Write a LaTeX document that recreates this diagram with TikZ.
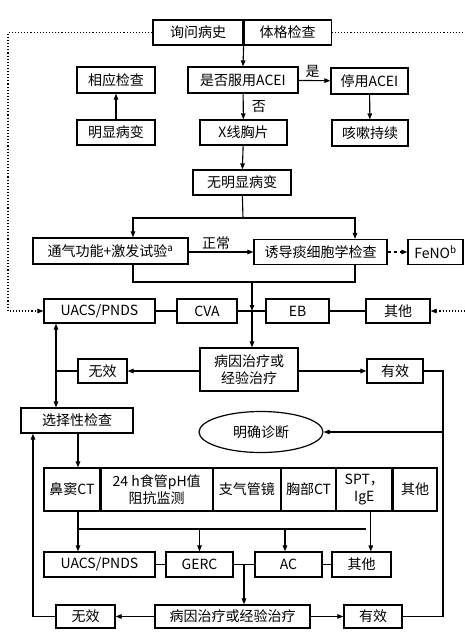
\documentclass[tikz,border=0pt]{standalone}
\usepackage{fontspec}
\setmainfont{Noto Sans CJK SC}
\usetikzlibrary{positioning, arrows.meta, shapes.geometric}
\tikzset{
  box/.style={
    draw, line width=1.2pt, inner sep=1pt, minimum height=25pt,
    align=center, font=\fontsize{14}{17}\selectfont
  },
  cell/.style={box, minimum height=43pt},
  oval/.style={box, ellipse, minimum width=124pt, minimum height=41pt},
  arr/.style={-{Triangle[length=6pt,width=4.5pt]}, line width=1.1pt},
  link/.style={line width=1.1pt},
  hint/.style={arr, dotted},
  tag/.style={font=\fontsize{14}{16}\selectfont, inner sep=2pt},
}

\begin{document}
\begin{tikzpicture}[x=1pt, y=-1pt]
  \useasboundingbox (0,0) rectangle (465,641);

  % top part
  \node[box, minimum width=90pt] (hist) at (198,32.5) {询问病史};
  \node[box, minimum width=87pt, right=0pt of hist] (phys) {体格检查};
  \node[box, minimum width=78pt, minimum height=26pt] (relexam) at (116,80) {相应检查};
  \node[box, minimum width=110pt, minimum height=26pt] (acei) at (243,80) {是否服用ACEI};
  \node[box, minimum width=77pt, minimum height=26pt] (stop) at (369.5,81) {停用ACEI};
  \node[box, minimum width=78pt] (obvious) at (116,132.5) {明显病变};
  \node[box, minimum width=87pt] (xray) at (243.5,132.5) {X线胸片};
  \node[box, minimum width=76pt, minimum height=26pt] (cough) at (370,133) {咳嗽持续};
  \node[box, minimum width=98pt] (noles) at (242,182.5) {无明显病变};

  \draw[arr] (hist.south east) -- (acei.north);
  \draw[arr] (acei) -- node[tag, above, xshift=-2pt] {是} (stop);
  \draw[arr] (acei) -- node[tag, right=6pt] {否} (xray);
  \draw[arr] (obvious) -- (relexam);
  \draw[arr] (stop) -- (cough);
  \draw[arr] (xray) -- (noles);

  % tests
  \node[box, minimum width=155pt, minimum height=26pt] (vent) at (110.5,251) {通气功能+激发试验\textsuperscript{a}};
  \node[box, minimum width=133pt, minimum height=25pt] (sputum) at (320.5,252) {诱导痰细胞学检查};
  \node[box, minimum width=55pt, minimum height=25pt] (feno) at (435.5,252) {FeNO\textsuperscript{b}};

  \coordinate (split) at (243,218);
  \coordinate (merge) at (252,282);
  \draw[link] (noles) -- (split);
  \draw[arr] (split) -| ([xshift=22.5pt]vent.north);
  \draw[arr] (split) -| ([xshift=34.5pt]sputum.north);
  \draw[arr] (vent.east |- sputum) -- node[tag, above, xshift=-5pt] {正常} (sputum);
  \draw[arr, dashed] (sputum) -- (feno);
  \draw[link] ([xshift=22.5pt]vent.south) |- (merge) -| ([xshift=34.5pt]sputum.south);

  % first diagnoses
  \node[box, minimum width=111pt, minimum height=24pt] (uacs1) at (99.5,311) {UACS/PNDS};
  \node[box, minimum width=60pt, minimum height=24pt] (cva) at (207,311) {CVA};
  \node[box, minimum width=63pt, minimum height=24pt] (eb) at (297.5,311) {EB};
  \node[box, minimum width=64pt, minimum height=24pt] (other1) at (398,311) {其他};
  \draw[link] (uacs1) -- (cva) -- (eb) -- (other1);

  \coordinate (row1) at (252,311);
  \draw[arr] (merge) -- (row1);

  \coordinate (dtl) at (8,32.5);
  \coordinate (dbl) at (8,311);
  \coordinate (dtr) at (467,32.5);
  \coordinate (dbr) at (467,311);
  \draw[hint] (hist.west) -- (dtl) -- (dbl) -- (uacs1.west);
  \draw[hint] (phys.east) -- (dtr) -- (dbr) -- (other1.east);

  \node[box, minimum width=98pt, minimum height=43pt] (treat1) at (249,369.5) {病因治疗或\\经验治疗};
  \node[box, minimum width=49pt, minimum height=24pt] (ineff1) at (102.5,371) {无效};
  \node[box, minimum width=56pt, minimum height=24pt] (eff1) at (395,371) {有效};
  \draw[arr] (row1) -- (row1 |- treat1.north);
  \draw[arr] (treat1.west |- ineff1) -- (ineff1);
  \draw[arr] (treat1.east |- eff1) -- (eff1);

  \node[box, minimum width=112pt] (select) at (77,420.5) {选择性检查};
  \node[oval] (diag) at (261,432) {明确诊断};

  \coordinate (lj) at (56,371);
  \draw[link] (ineff1) -- (lj);
  \draw[arr] (lj) -- (lj |- uacs1.south);
  \draw[arr] (lj) -- (lj |- select.north);

  % selective tests
  \node[cell, minimum width=56pt] (c1) at (72,489.5) {鼻窦CT};
  \node[cell, minimum width=111pt, right=0pt of c1] (c2) {24 h食管pH值\\阻抗监测};
  \node[cell, minimum width=67pt, right=0pt of c2] (c3) {支气管镜};
  \node[cell, minimum width=54pt, right=0pt of c3] (c4) {胸部CT};
  \node[cell, minimum width=55pt, right=0pt of c4] (c5) {SPT，\\IgE};
  \node[cell, minimum width=44pt, right=0pt of c5] (c6) {其他};
  \draw[arr] ([xshift=1pt]select.south) -- ([xshift=1pt]select.south |- c1.north);

  \node[box, minimum width=111pt] (uacs2) at (99.5,564.5) {UACS/PNDS};
  \node[box, minimum width=67pt] (gerc) at (199.5,564.5) {GERC};
  \node[box, minimum width=67pt] (ac) at (288.5,564.5) {AC};
  \node[box, minimum width=59pt] (other2) at (361.5,564.5) {其他};
  \draw[link] (uacs2) -- (gerc) -- (ac) -- (other2);

  \coordinate (bl) at (78,529);
  \coordinate (br) at (366,529);
  \draw[link] (bl) -- (br);
  \draw[arr] ([xshift=6pt]c1.south) -- ([xshift=6pt]c1.south |- uacs2.north);
  \draw[arr] ([xshift=6.5pt]c5.south) -- ([xshift=6.5pt]c5.south |- other2.north);
  \draw[arr] (bl -| gerc.north) -- (gerc.north);
  \draw[arr] ([xshift=-3.5pt]bl -| ac.north) -- ([xshift=-3.5pt]ac.north);

  \node[box, minimum width=59pt, minimum height=23pt] (ineff2) at (85.5,616.5) {无效};
  \node[box, minimum width=155pt, minimum height=23pt] (treat2) at (232.5,616.5) {病因治疗或经验治疗};
  \node[box, minimum width=58pt, minimum height=23pt] (eff2) at (373,616.5) {有效};

  \coordinate (row2) at (244,564.5);
  \draw[arr] (row2) -- (row2 |- treat2.north);
  \draw[arr] (treat2) -- (ineff2);
  \draw[arr] (treat2) -- (eff2);

  % feedback lines
  \coordinate (lb) at (33,616.5);
  \draw[arr] (ineff2) -- (lb) -- (lb |- select.south);
  \coordinate (rt) at (443,371);
  \coordinate (rb) at (443,616.5);
  \draw[link] (eff1) -- (rt) -- (rb) -- (eff2);
  \draw[arr] (rt |- diag) -- (diag);
\end{tikzpicture}
\end{document}
